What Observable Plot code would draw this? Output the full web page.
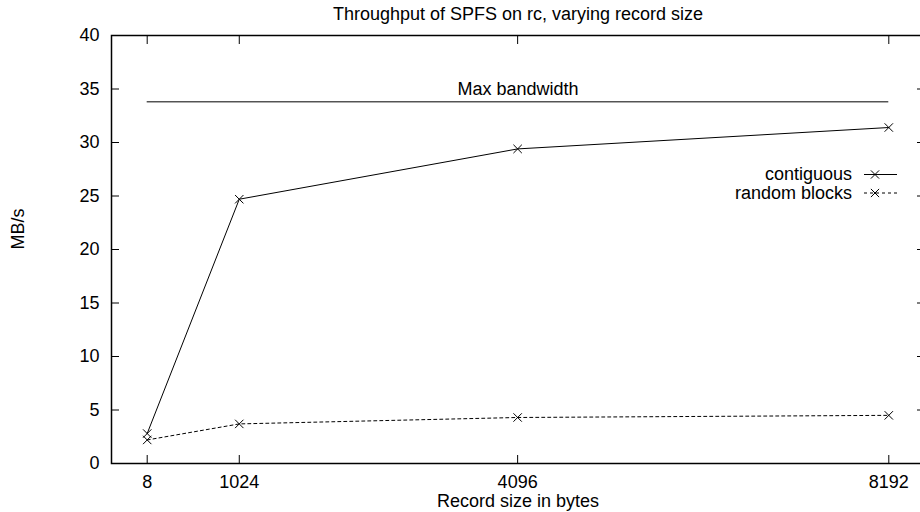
<!DOCTYPE html>
<html>
<head>
<meta charset="utf-8">
<script src="https://cdn.jsdelivr.net/npm/d3@7"></script>
<script src="https://cdn.jsdelivr.net/npm/@observablehq/plot@0.6"></script>
<style>
  html, body { margin: 0; padding: 0; background: #fff; overflow: hidden; }
  #chart svg { display: block; }
</style>
</head>
<body>
<div id="chart"></div>
<script>
// ---- data ----
const recordSizes = [8, 1024, 4096, 8192];
const contiguous = [2.8, 24.7, 29.4, 31.4];
const randomBlocks = [2.2, 3.7, 4.3, 4.5];
const maxBandwidth = 33.8;
const xTicks = [8, 1024, 4096, 8192];
const yTicks = [0, 5, 10, 15, 20, 25, 30, 35, 40];
const seriesNames = ["contiguous", "random blocks"];
const titleText = "Throughput of SPFS on rc, varying record size";
const xLabel = "Record size in bytes";
const yLabel = "MB/s";
const maxLabel = "Max bandwidth";

const rows = [];
recordSizes.forEach((s, i) => {
  rows.push({size: s, value: contiguous[i], series: seriesNames[0]});
  rows.push({size: s, value: randomBlocks[i], series: seriesNames[1]});
});
const contRows = rows.filter(d => d.series === seriesNames[0]);
const randRows = rows.filter(d => d.series === seriesNames[1]);

const dash = {"contiguous": null, "random blocks": "3,3"};

// legend drawn as a custom mark, anchored to the top-right of the frame
function legend(index, scales, values, dims) {
  const g = d3.create("svg:g");
  const right = dims.width - dims.marginRight;
  const top = dims.marginTop;
  seriesNames.forEach((name, i) => {
    const cy = top + 139.5 + i * 18.5;
    g.append("text")
      .attr("x", right - 72).attr("y", cy).attr("dy", "0.32em")
      .attr("text-anchor", "end").attr("fill", "black").text(name);
    g.append("line")
      .attr("x1", right - 60).attr("x2", right - 27)
      .attr("y1", cy).attr("y2", cy)
      .attr("stroke", "black").attr("stroke-width", 1)
      .attr("stroke-dasharray", dash[name]);
    const m = 4.1, cx = right - 49;
    g.append("path")
      .attr("d", `M${cx - m},${cy - m}L${cx + m},${cy + m}M${cx - m},${cy + m}L${cx + m},${cy - m}`)
      .attr("stroke", "black").attr("fill", "none");
  });
  return g.node();
}

const chart = Plot.plot({
  width: 920,
  height: 512,
  marginLeft: 111,
  marginRight: -4,
  marginTop: 35,
  marginBottom: 49,
  style: {fontFamily: "'Liberation Sans', Arial, Helvetica, sans-serif", fontSize: "18px", background: "white", color: "black"},
  x: {type: "linear", domain: [-386, 8586]},
  y: {domain: [0, 40]},
  marks: [
    // inward ticks on all four sides
    Plot.axisY(yTicks, {anchor: "left", tickSize: 8, dx: 8, tickFormat: () => "", label: null, strokeWidth: 1}),
    Plot.axisY(yTicks, {anchor: "right", tickSize: 8, dx: -8, tickFormat: () => "", label: null, strokeWidth: 1}),
    Plot.axisX(xTicks, {anchor: "bottom", tickSize: 8, dy: -8, tickFormat: () => "", label: null, strokeWidth: 1}),
    Plot.axisX(xTicks, {anchor: "top", tickSize: 8, dy: 8, tickFormat: () => "", label: null, strokeWidth: 1}),
    // tick labels
    Plot.text(yTicks, {y: d => d, text: d => String(d), frameAnchor: "left", textAnchor: "end", dx: -12, lineAnchor: "middle", fill: "black"}),
    Plot.text(xTicks, {x: d => d, text: d => String(d), frameAnchor: "bottom", lineAnchor: "bottom", dy: 24, fill: "black"}),
    // axis labels and title
    Plot.text([titleText], {text: d => d, frameAnchor: "top", lineAnchor: "bottom", dy: -16, fill: "black"}),
    Plot.text([xLabel], {text: d => d, frameAnchor: "bottom", lineAnchor: "bottom", dy: 43, fill: "black"}),
    Plot.text([yLabel], {text: d => d, frameAnchor: "left", rotate: -90, dx: -93, lineAnchor: "middle", fill: "black"}),
    // max bandwidth
    Plot.ruleY([maxBandwidth], {x1: recordSizes[0], x2: recordSizes[recordSizes.length - 1], stroke: "black", strokeWidth: 1}),
    Plot.text([maxLabel], {x: (recordSizes[0] + recordSizes[recordSizes.length - 1]) / 2, y: maxBandwidth, text: d => d, dy: -13, lineAnchor: "middle", fill: "black"}),
    // series
    Plot.line(contRows, {x: "size", y: "value", stroke: "black", strokeWidth: 1}),
    Plot.line(randRows, {x: "size", y: "value", stroke: "black", strokeWidth: 1, strokeDasharray: "3,3"}),
    Plot.dot(rows, {x: "size", y: "value", symbol: "times", r: 3.9, stroke: "black", strokeWidth: 1}),
    legend,
    Plot.frame({stroke: "black", strokeWidth: 1.5})
  ]
});
document.getElementById("chart").appendChild(chart);
</script>
</body>
</html>
